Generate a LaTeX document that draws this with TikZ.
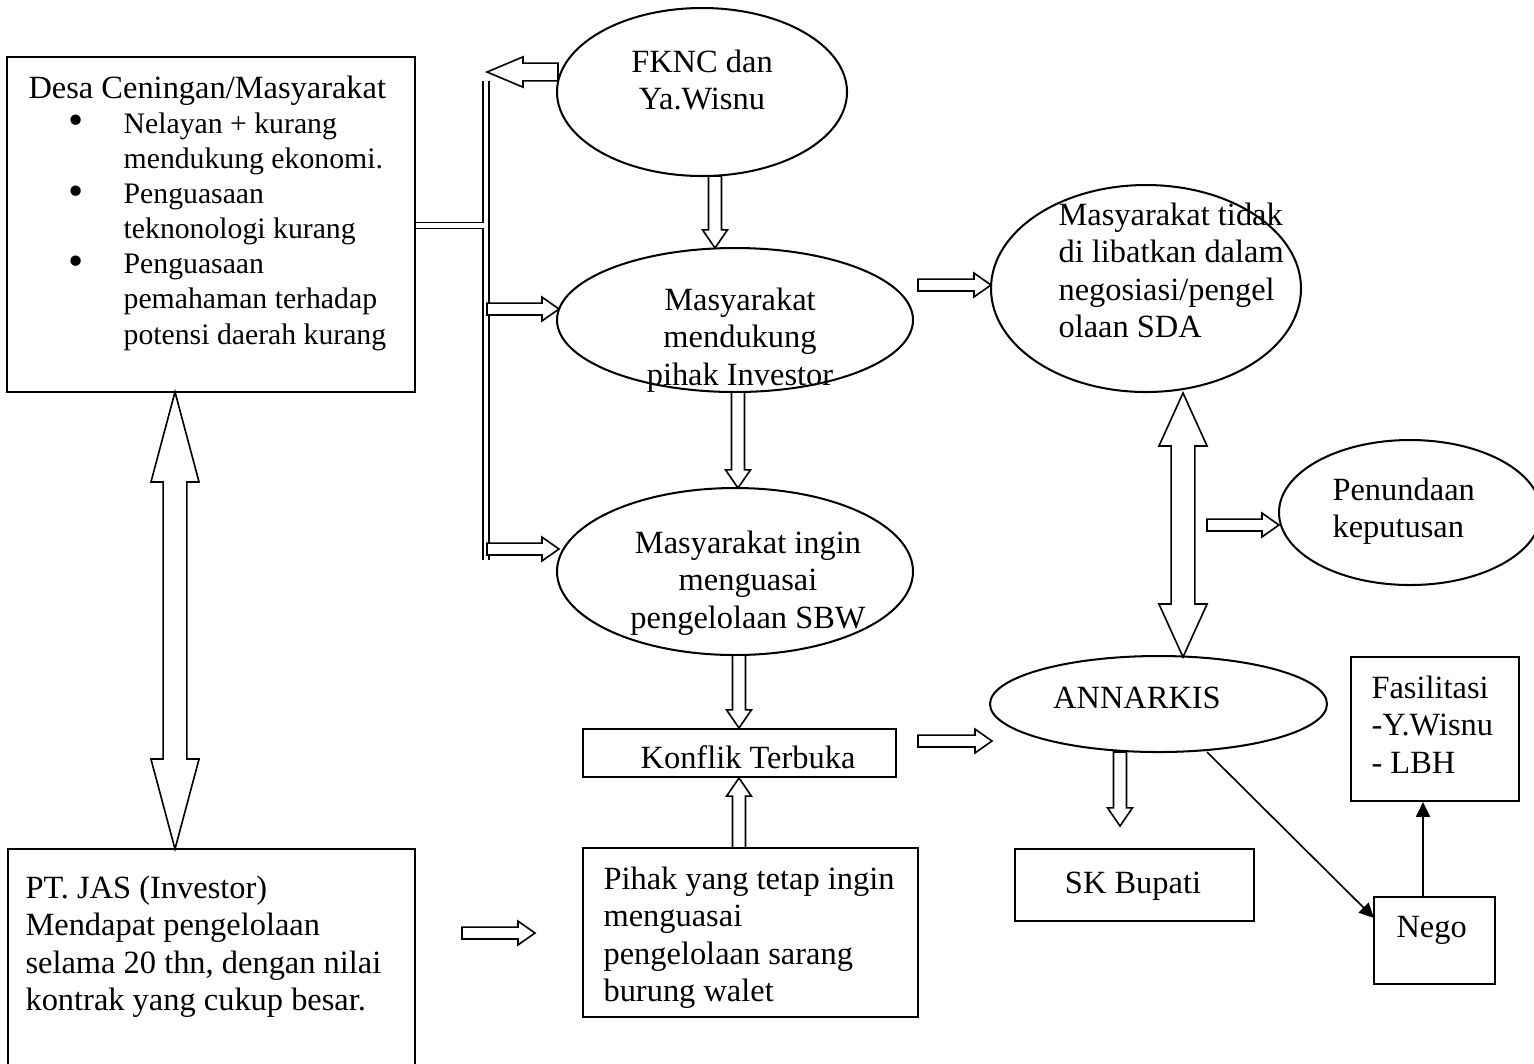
\documentclass[tikz,border=0pt]{standalone}
\usepackage{fontspec}
\setmainfont{Liberation Serif}
\usetikzlibrary{calc,fit,shapes.geometric,arrows.meta}

\tikzset{
  outline/.style={draw, line width=0.75pt},
  boxnode/.style={outline, rectangle, inner sep=0pt},
  ellnode/.style={outline, ellipse, inner sep=0pt},
  txt/.style={inner sep=0pt, font=\fontsize{12}{13.9}\selectfont},
  blockline/.style={draw, line width=0.6pt, fill=white, line join=miter},
  doubleline/.style={draw, double, line width=0.7pt, double distance=1.5pt},
  thinarrow/.style={draw, line width=0.6pt, -{Triangle[length=5.5pt,width=5.2pt]}},
}

% single hollow block arrow: from, to, shaft half width, wing half width, head length
\newcommand{\blockarrow}[5]{%
  \coordinate (bah) at ($(#2)!#5!(#1)$);
  \draw[blockline] ($(#1)!#3!90:(#2)$) -- ($(bah)!#3!-90:(#1)$) -- ($(bah)!#4!-90:(#1)$)
    -- (#2) -- ($(bah)!#4!90:(#1)$) -- ($(bah)!#3!90:(#1)$) -- ($(#1)!#3!-90:(#2)$) -- cycle;
}
% double-headed hollow block arrow
\newcommand{\dblblockarrow}[5]{%
  \coordinate (bahA) at ($(#2)!#5!(#1)$);
  \coordinate (bahB) at ($(#1)!#5!(#2)$);
  \draw[blockline] (#1) -- ($(bahB)!#4!90:(#2)$) -- ($(bahB)!#3!90:(#2)$)
    -- ($(bahA)!#3!-90:(#1)$) -- ($(bahA)!#4!-90:(#1)$) -- (#2)
    -- ($(bahA)!#4!90:(#1)$) -- ($(bahA)!#3!90:(#1)$)
    -- ($(bahB)!#3!-90:(#2)$) -- ($(bahB)!#4!-90:(#2)$) -- cycle;
}
\newcommand{\bulletline}[1]{\hspace*{14.8pt}\makebox[20.4pt][l]{\fontsize{16}{13}\selectfont\raisebox{-0.6pt}{\textbullet}}\fontsize{11}{13}\selectfont #1}
\newcommand{\contline}[1]{\hspace*{35.2pt}\fontsize{11}{13}\selectfont #1}

\begin{document}
\begin{tikzpicture}[x=0.37pt,y=-0.37pt]
\useasboundingbox (0,0) rectangle (1534,1063);

% ---------- boxes ----------
\node[boxnode, fit={(7,57) (415,392)}] (desa) {};
\node[boxnode, fit={(8,849) (415,1080)}] (ptjas) {};
\node[boxnode, fit={(583,729) (896,777)}] (konflik) {};
\node[boxnode, fit={(583,848) (918,1017)}] (pihak) {};
\node[boxnode, fit={(1015,849) (1254,921)}] (skb) {};
\node[boxnode, fit={(1351,657) (1519,801)}] (fas) {};
\node[boxnode, fit={(1374,897) (1495,984)}] (nego) {};

% ---------- ellipses ----------
\node[ellnode, minimum width=107.3pt, minimum height=62.16pt] (fknc) at (702,92) {};
\node[ellnode, minimum width=131.72pt, minimum height=53.28pt] (dukung) at (735,320) {};
\node[ellnode, minimum width=131.72pt, minimum height=61.79pt] (ingin) at (735,571.5) {};
\node[ellnode, minimum width=114.7pt, minimum height=76.59pt] (tidak) at (1146,288.5) {};
\node[ellnode, minimum width=96.94pt, minimum height=53.65pt] (tunda) at (1410,512.5) {};
\node[ellnode, minimum width=124.69pt, minimum height=35.52pt] (anarkis) at (1158.5,704) {};

% ---------- texts ----------
\node[txt, font=\fontsize{12}{13}\selectfont, align=left, anchor=north west] (tdesa) at (28,75) {%
Desa Ceningan/Masyarakat\\
\bulletline{Nelayan + kurang}\\
\contline{mendukung ekonomi.}\\
\bulletline{Penguasaan}\\
\contline{teknonologi kurang}\\
\bulletline{Penguasaan}\\
\contline{pemahaman terhadap}\\
\contline{potensi daerah kurang}};
\node[txt, align=center, anchor=north] (tfknc) at (702,49) {FKNC dan\\Ya.Wisnu};
\node[txt, align=center, anchor=north] (tdukung) at (740,287) {Masyarakat\\mendukung\\pihak Investor};
\node[txt, align=center, anchor=north] (tingin) at (748,530) {Masyarakat ingin\\menguasai\\pengelolaan SBW};
\node[txt, anchor=base] (tkonflik) at (748,768) {Konflik Terbuka};
\node[txt, align=left, anchor=north west] (tpihak) at (603,866) {Pihak yang tetap ingin\\menguasai\\pengelolaan sarang\\burung walet};
\node[txt, align=left, anchor=north west] (tptjas) at (25,875) {PT. JAS (Investor)\\Mendapat pengelolaan\\selama 20 thn, dengan nilai\\kontrak yang cukup besar.};
\node[txt, align=left, anchor=north west] (ttidak) at (1058,202) {Masyarakat tidak\\di libatkan dalam\\negosiasi/pengel\\olaan SDA};
\node[txt, align=left, anchor=north west] (ttunda) at (1332,477) {Penundaan\\keputusan};
\node[txt, anchor=base] (tanarkis) at (1137,708) {ANNARKIS};
\node[txt, anchor=base] (tskb) at (1133,893) {SK Bupati};
\node[txt, align=left, anchor=north west] (tfas) at (1371,675) {Fasilitasi\\-Y.Wisnu\\- LBH};
\node[txt, anchor=base west] (tnego) at (1396,937) {Nego};

% ---------- double line bus ----------
\coordinate (busTop) at (486,81);
\coordinate (busBot) at (486,560);
\coordinate (busJoin) at (484,225.5);
\draw[doubleline] (busTop) -- (busBot);
\draw[doubleline] (desa.east |- busJoin) -- (busJoin);

% ---------- hollow arrow endpoints ----------
\coordinate (a1s) at (558,72);   \coordinate (a1e) at (487,72);
\coordinate (a2s) at (487,309);  \coordinate (a2e) at (559,309);
\coordinate (a3s) at (487,549);  \coordinate (a3e) at (559,549);
\coordinate (a4s) at (715,176);  \coordinate (a4e) at (715,248);
\coordinate (a5s) at (738,392);  \coordinate (a5e) at (738,488);
\coordinate (a6s) at (739,655);  \coordinate (a6e) at (739,728);
\coordinate (a7s) at (739,848);  \coordinate (a7e) at (739,778);
\coordinate (a8s) at (462,933);  \coordinate (a8e) at (535,933);
\coordinate (a9s) at (918,741);  \coordinate (a9e) at (992,741);
\coordinate (a10s) at (918,285); \coordinate (a10e) at (991,285);
\coordinate (a11s) at (1207,525); \coordinate (a11e) at (1279,525);
\coordinate (a12s) at (1120,752); \coordinate (a12e) at (1120,826);
\coordinate (d1s) at (175,392);  \coordinate (d1e) at (175,849);
\coordinate (d2s) at (1183,393); \coordinate (d2e) at (1183,657);

\blockarrow{a1s}{a1e}{3.3pt}{5.6pt}{13.3pt}
\blockarrow{a2s}{a2e}{2.2pt}{4.4pt}{6.3pt}
\blockarrow{a3s}{a3e}{2.2pt}{4.4pt}{6.3pt}
\blockarrow{a4s}{a4e}{2.4pt}{4.6pt}{6.7pt}
\blockarrow{a5s}{a5e}{2.4pt}{4.6pt}{6.7pt}
\blockarrow{a6s}{a6e}{2.4pt}{4.6pt}{6.7pt}
\blockarrow{a7s}{a7e}{2.4pt}{4.6pt}{6.7pt}
\blockarrow{a8s}{a8e}{2.2pt}{4.4pt}{6.3pt}
\blockarrow{a9s}{a9e}{2.2pt}{4.4pt}{6.3pt}
\blockarrow{a10s}{a10e}{2.2pt}{4.4pt}{6.3pt}
\blockarrow{a11s}{a11e}{2.2pt}{4.4pt}{6.3pt}
\blockarrow{a12s}{a12e}{2.4pt}{4.6pt}{6.7pt}
\dblblockarrow{d1s}{d1e}{4.4pt}{8.9pt}{33.3pt}
\dblblockarrow{d2s}{d2e}{4.4pt}{8.9pt}{19.6pt}

% ---------- thin arrows ----------
\coordinate (anOut) at (1207,752);
\coordinate (negoIn) at (1374,918);
\coordinate (negoX) at (1423,0);
\draw[thinarrow] (anOut) -- (negoIn);
\draw[thinarrow] (nego.north -| negoX) -- (fas.south -| negoX);
\end{tikzpicture}
\end{document}
